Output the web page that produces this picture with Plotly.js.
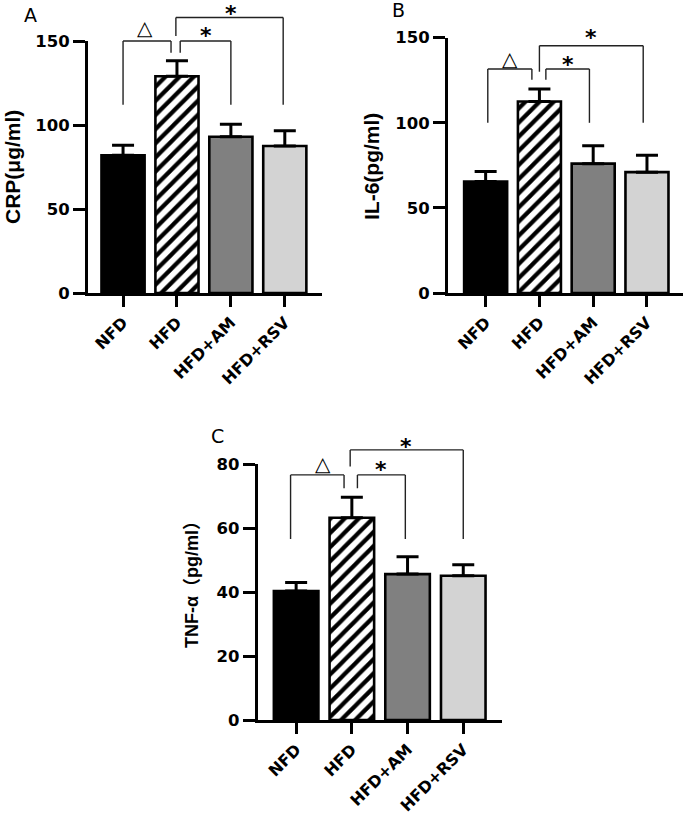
<!DOCTYPE html>
<html><head><meta charset="utf-8">
<script src="https://cdn.plot.ly/plotly-3.0.1.min.js"></script>
<style>html,body{margin:0;padding:0;background:#fff}</style>
</head><body><div id="chart" style="width:685px;height:816px"></div>
<script>
// ---- data ----
const categories = ['NFD', 'HFD', 'HFD+AM', 'HFD+RSV'];
const crpMean = [82, 129, 93, 87.5];
const crpErr  = [6, 9.3, 7.4, 9.1];
const il6Mean = [65.5, 112.5, 76, 71];
const il6Err  = [5.9, 7.3, 10.5, 10];
const tnfMean = [40.3, 63.2, 45.6, 45.1];
const tnfErr  = [2.7, 6.4, 5.4, 3.4];
const panelLetters = ['A', 'B', 'C'];
const yTitles = ['CRP(μg/ml)', 'IL-6(pg/ml)', 'TNF-α（pg/ml）'];
const yMax = [150, 150, 80];
const yStep = [50, 50, 20];
const sigLabels = ['△', '*', '*'];

// ---- styles ----
const barColors = ['#000000', '#ffffff', '#808080', '#d3d3d3'];
const barPatterns = ['', '/', '', ''];
const W = 685, H = 816;
const yTickFont = {family: 'DejaVu Sans', size: 16.5, color: '#000', weight: 'bold'};
const xTickFont = {family: 'DejaVu Sans', size: 16, color: '#000', weight: 'bold'};

// panel geometry in pixels: [left, right], [top(at ymax), bottom(at 0)]
const panels = [
  {px: [88, 322], py: [41, 293], xr: [-0.65, 3.69], mean: crpMean, err: crpErr,
   letter: [30, 15], title: [13, 167], titleSize: 21,
   br: [ // [x0, yLeft, yTop, x1, yRight, labelX, labelY]
     [0, 112, 150, 0.89, 143, 0.41, 157.7],
     [1.06, 143, 150, 2, 112, 1.54, 156.5],
     [0.98, 153, 164, 2.97, 112, 2.0, 169.5]]},
  {px: [448, 683], py: [37.7, 293], xr: [-0.70, 3.67], mean: il6Mean, err: il6Err,
   letter: [398, 10], title: [372, 167], titleSize: 21,
   br: [
     [0.04, 100, 131.6, 0.86, 125.3, 0.46, 137.5],
     [1.12, 125.3, 131.6, 1.93, 100, 1.54, 137],
     [1.0, 130, 145.3, 2.93, 100, 1.95, 153]]},
  {px: [257.7, 501.7], py: [464, 720], xr: [-0.69, 3.69], mean: tnfMean, err: tnfErr,
   letter: [217, 436], title: [192, 580], titleSize: 18,
   br: [
     [-0.1, 56.6, 76.6, 0.86, 72.4, 0.48, 80],
     [1.1, 72.4, 76.6, 1.96, 56.6, 1.52, 79.7],
     [0.97, 79.2, 84.4, 3.0, 56.6, 1.98, 87]]}
];

const data = [];
const layout = {
  width: W, height: H, margin: {l: 0, r: 0, t: 0, b: 0},
  paper_bgcolor: '#fff', plot_bgcolor: 'rgba(0,0,0,0)', showlegend: false,
  barmode: 'overlay', shapes: [], annotations: []
};

panels.forEach((p, i) => {
  const n = i === 0 ? '' : String(i + 1);
  const xa = 'x' + n, ya = 'y' + n;
  categories.forEach((c, j) => {
    const marker = {color: barColors[j], opacity: 1, line: {color: '#000', width: 2.6}};
    if (barPatterns[j]) {
      marker.pattern = {shape: barPatterns[j], fgcolor: '#000', bgcolor: barColors[j],
                        fillmode: 'replace', size: 10, solidity: 0.42};
    }
    data.push({
      type: 'bar', x: [c], y: [p.mean[j]], xaxis: xa, yaxis: ya, width: 0.8,
      marker: marker,
      error_y: {type: 'data', symmetric: false, array: [p.err[j]], arrayminus: [0],
                color: '#000', thickness: 3, width: 11},
      hoverinfo: 'skip'
    });
  });
  layout['xaxis' + n] = {
    domain: [p.px[0] / W, p.px[1] / W], anchor: ya, range: p.xr,
    type: 'category', categoryorder: 'array', categoryarray: categories,
    showline: true, linewidth: 3, linecolor: '#000',
    ticks: 'outside', ticklen: 11, tickwidth: 3, tickcolor: '#000',
    tickangle: -45, tickfont: xTickFont, showgrid: false, zeroline: false, fixedrange: true
  };
  layout['yaxis' + n] = {
    domain: [1 - p.py[1] / H, 1 - p.py[0] / H], anchor: xa, range: [0, yMax[i]],
    dtick: yStep[i], tick0: 0, showline: true, linewidth: 3, linecolor: '#000',
    ticks: 'outside', ticklen: 12, tickwidth: 3, tickcolor: '#000',
    tickfont: yTickFont, showgrid: false, zeroline: false, fixedrange: true
  };
  // significance brackets
  p.br.forEach((b, k) => {
    const ln = {type: 'line', xref: xa, yref: ya + ' domain',
                line: {color: '#222', width: 1.4}, layer: 'above'};
    layout.shapes.push(Object.assign({}, ln, {x0: b[0], x1: b[0], y0: b[1] / yMax[i], y1: b[2] / yMax[i]}));
    layout.shapes.push(Object.assign({}, ln, {x0: b[0], x1: b[3], y0: b[2] / yMax[i], y1: b[2] / yMax[i]}));
    layout.shapes.push(Object.assign({}, ln, {x0: b[3], x1: b[3], y0: b[2] / yMax[i], y1: b[4] / yMax[i]}));
    const isTri = sigLabels[k] === '△';
    layout.annotations.push({
      text: sigLabels[k], xref: xa, yref: ya + ' domain', x: b[5], y: b[6] / yMax[i],
      showarrow: false, xanchor: 'center', yanchor: 'middle',
      yshift: isTri ? 0 : -5,
      font: isTri ? {family: 'DejaVu Sans', size: 20, color: '#000'}
                  : {family: 'DejaVu Sans', size: 22, color: '#000', weight: 'bold'}
    });
  });
  // panel letter
  layout.annotations.push({
    text: panelLetters[i], xref: 'paper', yref: 'paper',
    x: p.letter[0] / W, y: 1 - p.letter[1] / H, xanchor: 'center', yanchor: 'middle',
    showarrow: false, font: {family: 'DejaVu Sans', size: 19, color: '#000'}
  });
  // y title
  layout.annotations.push({
    text: yTitles[i], xref: 'paper', yref: 'paper', textangle: -90,
    x: p.title[0] / W, y: 1 - p.title[1] / H, xanchor: 'center', yanchor: 'middle',
    showarrow: false, font: {family: 'Liberation Sans, Noto Sans CJK SC', size: p.titleSize, color: '#000', weight: 'bold'}
  });
});

Plotly.newPlot('chart', data, layout, {displayModeBar: false, staticPlot: true});
</script>
</body></html>
